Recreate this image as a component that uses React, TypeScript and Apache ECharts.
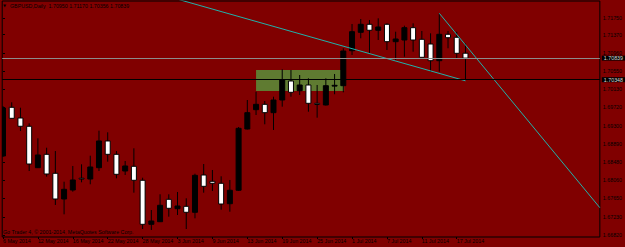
import React, { useEffect, useRef } from 'react';
import * as echarts from 'echarts';

const symbol = 'GBPUSD';
const period = 'Daily';

const opens = [
  1.68615, 1.69721, 1.69478, 1.6929, 1.68349, 1.68653, 1.68222, 1.67638, 1.67842, 1.6811,
  1.68092, 1.68349, 1.68956, 1.68653, 1.68274, 1.68381, 1.68063, 1.67063, 1.67122, 1.67631,
  1.67418, 1.67472, 1.67336, 1.68183, 1.6804, 1.67995, 1.67531, 1.67836, 1.69228, 1.69667,
  1.69789, 1.69599, 1.69887, 1.70319, 1.70098, 1.70228, 1.69812, 1.69774, 1.70205, 1.70212,
  1.71007, 1.71425, 1.71607, 1.71471, 1.71607, 1.71212, 1.7125, 1.7153, 1.71266, 1.71159,
  1.7078, 1.7138, 1.71312, 1.7095,
];
const closes = [
  1.69705, 1.69471, 1.6929, 1.68433, 1.68638, 1.68206, 1.67638, 1.67858, 1.6807, 1.68106,
  1.68365, 1.68956, 1.68653, 1.68199, 1.68388, 1.68063, 1.67063, 1.67138, 1.67495, 1.67427,
  1.67479, 1.67336, 1.68176, 1.67926, 1.67995, 1.67524, 1.67836, 1.69244, 1.69599, 1.69789,
  1.69599, 1.69887, 1.70341, 1.70062, 1.70228, 1.69812, 1.69785, 1.70212, 1.70221, 1.71,
  1.71439, 1.71607, 1.71471, 1.71546, 1.71212, 1.71273, 1.7153, 1.7125, 1.70857, 1.7078,
  1.7138, 1.71302, 1.70948, 1.70839,
];
const lows = [
  1.68592, 1.6946, 1.69183, 1.68274, 1.68342, 1.68145, 1.67502, 1.6729, 1.67804, 1.68017,
  1.67972, 1.68274, 1.68485, 1.68108, 1.68183, 1.67781, 1.66956, 1.66934, 1.67115, 1.67236,
  1.67274, 1.66956, 1.67199, 1.67781, 1.6782, 1.67395, 1.67349, 1.6782, 1.69217, 1.69546,
  1.69335, 1.69206, 1.69735, 1.69962, 1.70001, 1.69621, 1.69485, 1.69762, 1.70017, 1.70062,
  1.70909, 1.71289, 1.70948, 1.7125, 1.71023, 1.70796, 1.70871, 1.70984, 1.70853, 1.7053,
  1.7053, 1.71062, 1.70834, 1.70356,
];
const highs = [
  1.69751, 1.69835, 1.69712, 1.69358, 1.69017, 1.68803, 1.68728, 1.68031, 1.68388, 1.68426,
  1.68622, 1.6919, 1.69153, 1.68728, 1.68501, 1.6879, 1.68122, 1.67388, 1.67745, 1.67745,
  1.67797, 1.67654, 1.68213, 1.68433, 1.68297, 1.68154, 1.6807, 1.69274, 1.69887, 1.70076,
  1.69864, 1.69962, 1.70585, 1.70569, 1.70455, 1.7038, 1.70228, 1.7038, 1.70478, 1.71062,
  1.71614, 1.71727, 1.71705, 1.71743, 1.7163, 1.71439, 1.71575, 1.7163, 1.71455, 1.71402,
  1.71857, 1.71455, 1.71439, 1.7117,
];

const dateTickIndex = [0, 4, 8, 12, 16, 20, 24, 28, 32, 36, 40, 44, 48, 52];
const dateTickLabels = [
  '6 May 2014', '12 May 2014', '16 May 2014', '22 May 2014', '28 May 2014', '3 Jun 2014',
  '9 Jun 2014', '13 Jun 2014', '19 Jun 2014', '25 Jun 2014', '1 Jul 2014', '7 Jul 2014',
  '11 Jul 2014', '17 Jul 2014',
];
const priceTicks = [
  1.7175, 1.7137, 1.7096, 1.7055, 1.7013, 1.6972, 1.693, 1.6889, 1.6848, 1.6806, 1.6765,
  1.6723, 1.6682,
];

const trend1X = [20, 53];
const trend1Y = [1.72178, 1.70323];
const trend2X = [50, 68.4];
const trend2Y = [1.71857, 1.6744];
const zoneX = [29, 39.1];
const zoneY = [1.70568, 1.70091];
const bidLevel = 1.70839;
const blackLevel = 1.70348;

const copyright = 'Go Trader 4, \u00a9 2001-2014, MetaQuotes Software Corp.';

const FONT = 'Liberation Sans, Arial, DejaVu Sans, sans-serif';
const FS = 5.3;

export default function App() {
  const ref = useRef<HTMLDivElement>(null);
  useEffect(() => {
    if (!ref.current) return;
    const chart = echarts.init(ref.current, undefined, { renderer: 'svg' });
    const candles = opens.map((o, i) => [i, o, closes[i], lows[i], highs[i]]);
    const last = candles.length - 1;
    const title = `${symbol},${period}  ${opens[last].toFixed(5)} ${highs[last].toFixed(5)} ${lows[last].toFixed(5)} ${closes[last].toFixed(5)}`;

    const option: any = {
      animation: false,
      backgroundColor: '#800000',
      grid: {
        left: 1, top: 1, right: 24, bottom: 10,
        show: true, borderColor: '#000', borderWidth: 1, backgroundColor: 'transparent',
      },
      xAxis: {
        type: 'value', min: -0.091, max: 68.4,
        splitLine: { show: false },
        axisLine: { show: false },
        axisTick: { show: true, length: 2, lineStyle: { color: '#000' }, customValues: dateTickIndex },
        axisLabel: {
          customValues: dateTickIndex,
          formatter: (v: number) => {
            const k = dateTickIndex.indexOf(Math.round(v));
            return k >= 0 ? dateTickLabels[k] : '';
          },
          align: 'left', margin: 1.5, color: '#000', fontSize: FS, fontFamily: FONT,
        },
      },
      yAxis: {
        type: 'value', position: 'right', min: 1.667746, max: 1.721362, scale: true,
        splitLine: { show: false },
        axisLine: { show: false },
        axisTick: { show: true, length: 2, lineStyle: { color: '#000' }, customValues: priceTicks },
        axisLabel: {
          customValues: priceTicks,
          formatter: (v: number) => v.toFixed(5),
          margin: 3, color: '#000', fontSize: FS, fontFamily: FONT,
        },
      },
      series: [
        {
          type: 'custom', z: 1, clip: true,
          data: [[zoneX[0], zoneY[0], zoneX[1], zoneY[1]]],
          encode: { x: [0, 2], y: [1, 3] },
          renderItem: (_p: any, api: any) => {
            const a = api.coord([api.value(0), api.value(1)]);
            const b = api.coord([api.value(2), api.value(3)]);
            return {
              type: 'rect',
              shape: { x: a[0], y: a[1], width: b[0] - a[0], height: b[1] - a[1] },
              style: { fill: '#5f7b31' },
            };
          },
        },
        {
          type: 'custom', z: 3, clip: true,
          data: candles,
          encode: { x: 0, y: [1, 2, 3, 4] },
          renderItem: (_p: any, api: any) => {
            const i = api.value(0);
            const o = api.value(1), c = api.value(2), l = api.value(3), h = api.value(4);
            const po = api.coord([i, o]);
            const pc = api.coord([i, c]);
            const pl = api.coord([i, l]);
            const ph = api.coord([i, h]);
            const x = po[0];
            const bull = c > o;
            const top = Math.min(po[1], pc[1]);
            const bot = Math.max(po[1], pc[1]);
            const bw = 5;
            return {
              type: 'group',
              children: [
                { type: 'line', shape: { x1: x, y1: ph[1], x2: x, y2: pl[1] }, style: { stroke: '#000', lineWidth: 1 } },
                {
                  type: 'rect',
                  shape: { x: x - bw / 2, y: top, width: bw, height: Math.max(bot - top, 0.8) },
                  style: { fill: bull ? '#000' : '#fff', stroke: '#000', lineWidth: 1 },
                },
              ],
            };
          },
          markLine: {
            silent: true, symbol: 'none', precision: 5,
            data: [
              { yAxis: bidLevel, lineStyle: { color: '#8c8c8c', width: 1, type: 'solid' } },
              { yAxis: blackLevel, lineStyle: { color: '#000', width: 1, type: 'solid' } },
            ],
            label: {
              show: true, position: 'end', distance: 2,
              formatter: (p: any) => Number(p.value).toFixed(5),
              backgroundColor: '#000', color: '#d8d8d8', padding: [0, 3, 0, 2],
              fontSize: FS, fontFamily: FONT,
            },
          },
        },
        {
          type: 'line', z: 4, showSymbol: false, symbol: 'none', clip: true,
          data: trend1X.map((x, i) => [x, trend1Y[i]]),
          lineStyle: { color: '#20b2aa', width: 1 },
        },
        {
          type: 'line', z: 4, showSymbol: false, symbol: 'none', clip: true,
          data: trend2X.map((x, i) => [x, trend2Y[i]]),
          lineStyle: { color: '#20b2aa', width: 1 },
        },
      ],
      graphic: [
        {
          type: 'text', left: 3, top: 3, z: 10,
          style: { text: '\u25bc', fill: '#000', fontSize: 4, fontFamily: 'DejaVu Sans' },
        },
        {
          type: 'text', left: 10, top: 3, z: 10,
          style: { text: title, fill: '#000', fontSize: FS, fontFamily: FONT },
        },
        {
          type: 'text', left: 3, top: 229, z: 10,
          style: { text: copyright, fill: '#000', fontSize: FS, fontFamily: FONT },
        },
      ],
    };
    chart.setOption(option);
    return () => chart.dispose();
  }, []);
  return (
    <div
      ref={ref}
      style={{ position: 'fixed', left: 0, top: 0, width: 625, height: 247, background: '#800000' }}
    />
  );
}
